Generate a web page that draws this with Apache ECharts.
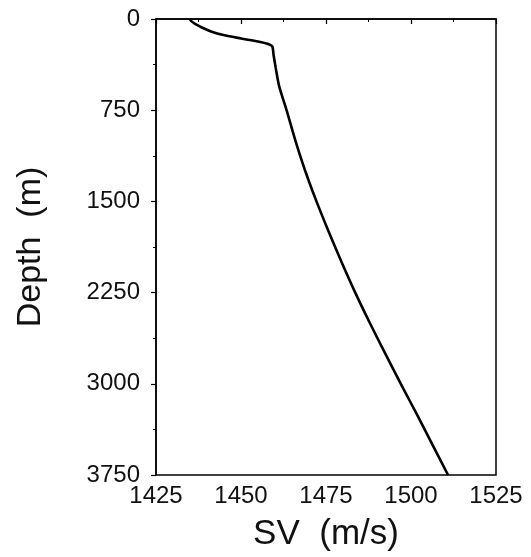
<!DOCTYPE html>
<html><head><meta charset="utf-8">
<script src="https://cdn.jsdelivr.net/npm/echarts@6/dist/echarts.min.js"></script>
<style>html,body{margin:0;padding:0;background:#fff}#c{width:531px;height:557px}</style>
</head><body><div id="c"></div>
<script>
const depth = [0, 15, 40, 70, 100, 130, 160, 185, 205, 225, 300, 400, 550, 750, 1000, 1250, 1500, 1750, 2000, 2250, 2500, 2750, 3000, 3250, 3500, 3750];
const sv = [1435.0, 1435.3, 1436.5, 1438.5, 1441.0, 1444.5, 1450.0, 1455.0, 1458.0, 1459.2, 1459.6, 1460.2, 1461.2, 1463.4, 1466.0, 1468.9, 1472.2, 1475.8, 1479.6, 1483.6, 1487.9, 1492.4, 1497.0, 1501.7, 1506.3, 1510.9];
const xTicks = [1425, 1450, 1475, 1500, 1525];
const yTicks = [0, 750, 1500, 2250, 3000, 3750];
const xName = 'SV  (m/s)';
const yName = 'Depth  (m)';

const chart = echarts.init(document.getElementById('c'));
const font = '"Liberation Sans", Arial, sans-serif';
chart.setOption({
  animation: false,
  grid: {left: 156, right: 35, top: 19, bottom: 78, show: true, borderColor: '#000', borderWidth: 1.5},
  xAxis: {
    type: 'value', min: xTicks[0], max: xTicks[xTicks.length - 1], interval: 25,
    name: xName, nameLocation: 'middle', nameGap: 42,
    nameTextStyle: {fontFamily: font, fontSize: 35, color: '#111'},
    axisLine: {show: true, lineStyle: {color: '#000', width: 1.5}},
    axisTick: {show: true, length: 5, lineStyle: {color: '#000', width: 1.2}},
    minorTick: {show: true, splitNumber: 2, length: 3, lineStyle: {color: '#000', width: 1}},
    axisLabel: {fontFamily: font, fontSize: 24, color: '#111', margin: 9, formatter: v => String(v)},
    splitLine: {show: false}
  },
  yAxis: {
    type: 'value', inverse: true, min: yTicks[0], max: yTicks[yTicks.length - 1], interval: 750,
    name: yName, nameLocation: 'middle', nameGap: 108, nameRotate: 90,
    nameTextStyle: {fontFamily: font, fontSize: 34, color: '#111'},
    axisLine: {show: true, lineStyle: {color: '#000', width: 1.5}},
    axisTick: {show: true, length: 5, lineStyle: {color: '#000', width: 1.2}},
    minorTick: {show: true, splitNumber: 2, length: 3, lineStyle: {color: '#000', width: 1}},
    axisLabel: {fontFamily: font, fontSize: 24, color: '#111', margin: 16, formatter: v => String(v)},
    splitLine: {show: false}
  },
  series: [{
    type: 'line', data: depth.map((d, i) => [sv[i], d]), showSymbol: false, smooth: 0.25,
    lineStyle: {color: '#000', width: 2.6}
  }]
});
</script></body></html>
